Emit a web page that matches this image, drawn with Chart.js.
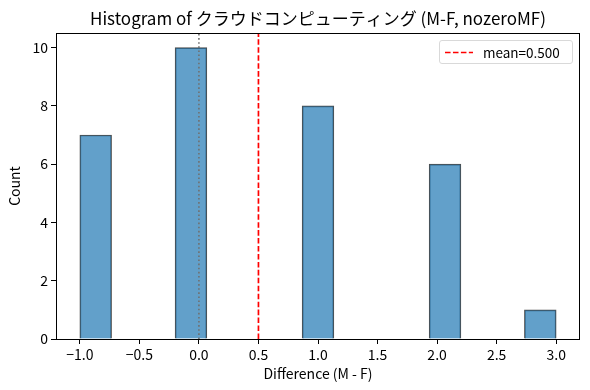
<!DOCTYPE html>
<html>
<head>
<meta charset="utf-8">
<script src="https://cdn.jsdelivr.net/npm/chart.js@4.4.1/dist/chart.umd.min.js"></script>
<style>
  html, body { margin: 0; padding: 0; background: #fff; }
  #wrap { position: relative; width: 590px; height: 390px; }
  #legend {
    position: absolute; left: 439px; top: 40px; width: 134px; height: 24px;
    border: 1px solid #d9d9d9; border-radius: 3px; background: rgba(255,255,255,0.8);
    font-family: "Noto Sans CJK JP", sans-serif; font-size: 13.5px; color: #000;
    box-sizing: border-box;
  }
  #legend svg { position: absolute; left: 5px; top: 10px; }
  #legend span { position: absolute; left: 43px; top: 2px; line-height: 18px; }
</style>
</head>
<body>
<div id="wrap">
  <canvas id="histChart" width="590" height="390"></canvas>
  <div id="legend">
    <svg width="30" height="3"><line x1="0" y1="1.5" x2="28" y2="1.5" stroke="#ff0000" stroke-width="1.6" stroke-dasharray="5.55 2.4"/></svg>
    <span>mean=0.500</span>
  </div>
</div>
<script>
// histogram bins: 15 bins from -1 to 3
const binStart = -1;
const binEnd = 3;
const counts = [7, 0, 0, 10, 0, 0, 0, 8, 0, 0, 0, 6, 0, 0, 1];
const meanValue = 0.5;
const zeroLine = 0;

const xTickValues = [-1, -0.5, 0, 0.5, 1, 1.5, 2, 2.5, 3];
const xTickLabels = ['\u22121.0', '\u22120.5', '0.0', '0.5', '1.0', '1.5', '2.0', '2.5', '3.0'];
const yTickValues = [0, 2, 4, 6, 8, 10];
const yTickLabels = ['0', '2', '4', '6', '8', '10'];

const binWidth = (binEnd - binStart) / counts.length;
const barData = counts.map((c, i) => ({ x: binStart + binWidth * (i + 0.5), y: c }));

const FONT = '"Noto Sans CJK JP", sans-serif';

// frame on all four sides, like matplotlib spines
const framePlugin = {
  id: 'frame',
  afterDatasetsDraw(chart) {
    const a = chart.chartArea;
    const ctx = chart.ctx;
    ctx.save();
    ctx.strokeStyle = '#000';
    ctx.lineWidth = 1;
    ctx.strokeRect(Math.round(a.left) + 0.5, Math.round(a.top) + 0.5,
      Math.round(a.right - a.left) - 1, Math.round(a.bottom - a.top));
    ctx.restore();
  }
};

const ctx = document.getElementById('histChart').getContext('2d');
new Chart(ctx, {
  type: 'bar',
  data: {
    datasets: [
      {
        type: 'line',
        label: 'mean',
        data: [{ x: meanValue, y: 0 }, { x: meanValue, y: 10.5 }],
        borderColor: '#ff0000',
        borderWidth: 1.7,
        borderDash: [5.55, 2.4],
        pointRadius: 0,
        order: 0
      },
      {
        type: 'line',
        label: 'zero',
        data: [{ x: zeroLine, y: 0 }, { x: zeroLine, y: 10.5 }],
        borderColor: '#707070',
        borderWidth: 1.6,
        borderDash: [1.6, 2.5],
        pointRadius: 0,
        order: 1
      },
      {
        label: 'count',
        data: barData,
        backgroundColor: 'rgba(31,119,180,0.7)',
        borderColor: 'rgba(0,0,0,0.7)',
        borderWidth: 1,
        barPercentage: 1,
        categoryPercentage: 1,
        order: 2
      }
    ]
  },
  options: {
    responsive: false,
    animation: false,
    layout: { padding: { left: 0, top: 33, right: 10, bottom: 0 } },
    plugins: {
      legend: { display: false },
      tooltip: { enabled: false },
      title: { display: false }
    },
    scales: {
      x: {
        type: 'linear',
        min: -1.2,
        max: 3.2,
        offset: false,
        grid: { display: true, drawOnChartArea: false, drawTicks: true, tickLength: 5, color: '#000', offset: false },
        border: { display: false },
        afterBuildTicks: (scale) => { scale.ticks = xTickValues.map(v => ({ value: v })); },
        afterFit: (scale) => { scale.height = 51; },
        ticks: {
          color: '#000',
          padding: 2,
          maxRotation: 0,
          autoSkip: false,
          font: { family: FONT, size: 14 },
          callback: (v) => xTickLabels[xTickValues.indexOf(v)]
        },
        title: {
          display: true,
          text: 'Difference (M - F)',
          color: '#000',
          font: { family: FONT, size: 14 },
          padding: { top: 0, bottom: 8 }
        }
      },
      y: {
        min: 0,
        max: 10.5,
        grid: { display: true, drawOnChartArea: false, drawTicks: true, tickLength: 5, color: '#000' },
        border: { display: false },
        afterBuildTicks: (scale) => { scale.ticks = yTickValues.map(v => ({ value: v })); },
        afterFit: (scale) => { scale.width = 56; },
        ticks: {
          color: '#000',
          padding: 3,
          font: { family: FONT, size: 14 },
          callback: (v) => yTickLabels[yTickValues.indexOf(v)]
        },
        title: {
          display: true,
          text: 'Count',
          color: '#000',
          font: { family: FONT, size: 14 },
          padding: { top: 6, bottom: 0 }
        }
      }
    }
  },
  plugins: [framePlugin, {
    id: 'topTitle',
    afterDraw(chart) {
      const c = chart.ctx;
      c.save();
      c.fillStyle = '#000';
      c.font = '17px ' + FONT;
      c.textAlign = 'center';
      c.textBaseline = 'middle';
      c.fillText('Histogram of クラウドコンピューティング (M-F, nozeroMF)', (chart.chartArea.left + chart.chartArea.right) / 2, 19);
      c.restore();
    }
  }]
});
</script>
</body>
</html>
